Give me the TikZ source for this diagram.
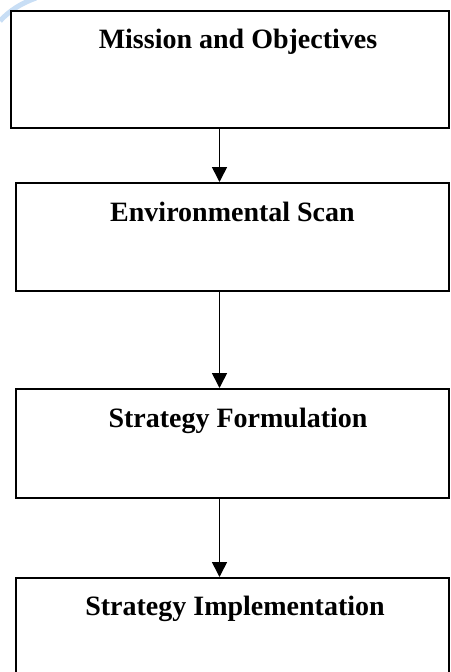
\documentclass[tikz,border=0pt]{standalone}
\usepackage{fontspec}
\setmainfont{Liberation Serif}
\usetikzlibrary{arrows.meta}
\begin{document}
\begin{tikzpicture}[x=1pt,y=-1pt,
  box/.style={draw=black,line width=2pt,inner sep=0pt,fill=white},
  title/.style={font=\fontsize{28}{30}\selectfont\bfseries,anchor=base,inner sep=0pt},
  arr/.style={line width=1.6pt,-{Triangle[width=15pt,length=15pt]}}]
\useasboundingbox (0,0) rectangle (450,672);
\fill[white] (0,0) rectangle (450,672);
% faint watermark fragment
\draw[line width=5pt,color={rgb,255:red,200;green,222;blue,245}] (0,21) .. controls (10,10) and (22,3) .. (36,-2);
\node[box,minimum width=438pt,minimum height=117pt] (b1) at (229.5,69.5) {};
\node[box,minimum width=432.5pt,minimum height=108pt] (b2) at (232.25,237) {};
\node[box,minimum width=432.5pt,minimum height=109pt] (b3) at (232.25,443.5) {};
\node[box,minimum width=432.5pt,minimum height=112pt] (b4) at (232.25,634) {};
\node[title] (t1) at (238,48) {Mission and Objectives};
\node[title] (t2) at (232.5,221) {Environmental Scan};
\node[title] (t3) at (238,427) {Strategy Formulation};
\node[title] (t4) at (235,615) {Strategy Implementation};
\coordinate (ax) at (219.5,0);
\draw[arr] (b1.south -| ax) -- (b2.north -| ax);
\draw[arr] (b2.south -| ax) -- (b3.north -| ax);
\draw[arr] (b3.south -| ax) -- (b4.north -| ax);
\end{tikzpicture}
\end{document}
